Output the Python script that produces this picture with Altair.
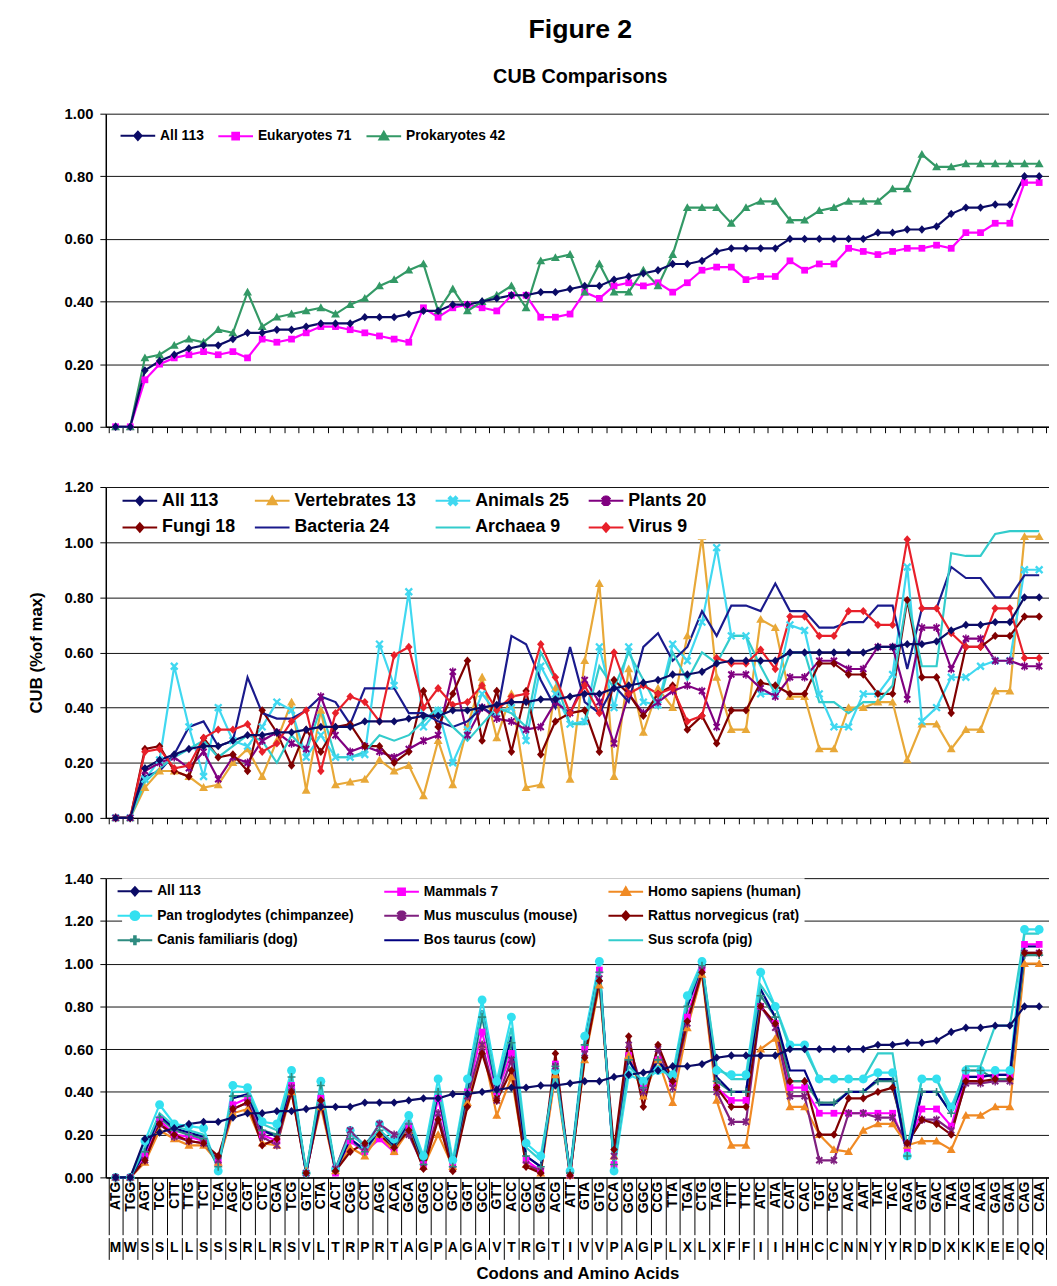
import altair as alt
import pandas as pd

codons = ["ATG","TGG","AGT","TCC","CTT","TTG","TCT","TCA","AGC","CGT","CTC","CGA","TCG","GTC","CTA","ACT",
          "CGG","CCT","AGG","ACA","GCA","GGG","CCC","GCT","GGT","GCC","GTT","ACC","CGC","GGA","ACG","ATT",
          "GTA","GTG","CCA","GCG","GGC","CCG","TTA","TGA","CTG","TAG","TTT","TTC","ATC","ATA","CAT","CAC",
          "TGT","TGC","AAC","AAT","TAT","TAC","AGA","GAT","GAC","TAA","AAG","AAA","GAG","GAA","CAG","CAA"]
amino = list("MWSSLLSSSRLRSVLTRPRTAGPAGAVTRGTIVVPAGPLXLXFFIIHHCCNNYYRDDXKKEEQQ")

all113 = [0.00,0.00,0.18,0.21,0.23,0.25,0.26,0.26,0.28,0.30, 0.30,0.31,0.31,0.32,0.33,0.33,0.33,0.35,0.35,0.35,
          0.36,0.37,0.37,0.39,0.39,0.40,0.41,0.42,0.42,0.43, 0.43,0.44,0.45,0.45,0.47,0.48,0.49,0.50,0.52,0.52,
          0.53,0.56,0.57,0.57,0.57,0.57,0.60,0.60,0.60,0.60, 0.60,0.60,0.62,0.62,0.63,0.63,0.64,0.68,0.70,0.70,
          0.71,0.71,0.80,0.80]
eukaryotes = [0,0,0.15,0.20,0.22,0.23,0.24,0.23,0.24,0.22, 0.28,0.27,0.28,0.30,0.32,0.32,0.31,0.30,0.29,0.28,
              0.27,0.38,0.35,0.38,0.39,0.38,0.37,0.42,0.42,0.35, 0.35,0.36,0.43,0.41,0.45,0.46,0.45,0.46,0.43,0.46,
              0.50,0.51,0.51,0.47,0.48,0.48,0.53,0.50,0.52,0.52, 0.57,0.56,0.55,0.56,0.57,0.57,0.58,0.57,0.62,0.62,
              0.65,0.65,0.78,0.78]
prokaryotes = [0,0,0.22,0.23,0.26,0.28,0.27,0.31,0.30,0.43, 0.32,0.35,0.36,0.37,0.38,0.36,0.39,0.41,0.45,0.47,
               0.50,0.52,0.37,0.44,0.37,0.40,0.42,0.45,0.38,0.53, 0.54,0.55,0.43,0.52,0.43,0.43,0.50,0.45,0.55,0.70,
               0.70,0.70,0.65,0.70,0.72,0.72,0.66,0.66,0.69,0.70, 0.72,0.72,0.72,0.76,0.76,0.87,0.83,0.83,0.84,0.84,
               0.84,0.84,0.84,0.84]

vertebrates = [0,0,0.11,0.17,0.17,0.15,0.11,0.12,0.20,0.25, 0.15,0.28,0.42,0.10,0.39,0.12,0.13,0.14,0.21,0.17,
               0.19,0.08,0.28,0.12,0.33,0.51,0.29,0.45,0.11,0.12, 0.47,0.14,0.57,0.85,0.15,0.54,0.31,0.47,0.40,0.66,
               1.02,0.51,0.32,0.32,0.72,0.69,0.44,0.44,0.25,0.25, 0.40,0.40,0.42,0.42,0.21,0.34,0.34,0.25,0.32,0.32,
               0.46,0.46,1.02,1.02]
animals = [0,0,0.14,0.21,0.55,0.33,0.15,0.40,0.28,0.26, 0.33,0.42,0.39,0.22,0.30,0.22,0.22,0.23,0.63,0.48,
           0.82,0.33,0.39,0.20,0.32,0.45,0.38,0.40,0.28,0.55, 0.45,0.34,0.35,0.62,0.40,0.62,0.42,0.41,0.63,0.57,
           0.71,0.98,0.66,0.66,0.45,0.45,0.70,0.68,0.45,0.33, 0.33,0.45,0.45,0.52,0.91,0.35,0.40,0.51,0.51,0.55,
           0.57,0.57,0.90,0.90]
plants = [0,0,0.17,0.20,0.22,0.18,0.24,0.14,0.22,0.20, 0.28,0.31,0.27,0.25,0.44,0.30,0.24,0.26,0.24,0.22,
          0.25,0.28,0.30,0.53,0.30,0.40,0.36,0.35,0.32,0.33, 0.42,0.38,0.50,0.42,0.27,0.45,0.38,0.42,0.46,0.48,
          0.46,0.33,0.52,0.52,0.47,0.44,0.51,0.51,0.57,0.57, 0.54,0.54,0.62,0.62,0.43,0.69,0.69,0.54,0.65,0.65,
          0.57,0.57,0.55,0.55]
fungi = [0,0,0.25,0.26,0.17,0.15,0.29,0.22,0.23,0.17, 0.39,0.31,0.19,0.32,0.24,0.33,0.34,0.26,0.26,0.20,
         0.24,0.46,0.33,0.45,0.57,0.28,0.46,0.24,0.46,0.23, 0.35,0.38,0.39,0.24,0.50,0.45,0.37,0.45,0.48,0.32,
         0.37,0.27,0.39,0.39,0.49,0.48,0.45,0.45,0.56,0.56, 0.52,0.52,0.45,0.45,0.79,0.51,0.51,0.38,0.62,0.62,
         0.66,0.66,0.73,0.73]
bacteria = [0,0,0.15,0.17,0.23,0.33,0.35,0.26,0.28,0.51, 0.38,0.36,0.36,0.39,0.44,0.42,0.34,0.47,0.47,0.47,
            0.38,0.38,0.35,0.33,0.35,0.40,0.37,0.66,0.63,0.50, 0.40,0.62,0.42,0.38,0.48,0.42,0.62,0.67,0.57,0.62,
            0.75,0.66,0.77,0.77,0.75,0.85,0.75,0.75,0.69,0.69, 0.71,0.71,0.77,0.77,0.54,0.76,0.76,0.91,0.87,0.87,
            0.80,0.80,0.88,0.88]
archaea = [0,0,0.13,0.18,0.22,0.25,0.28,0.22,0.26,0.30, 0.28,0.20,0.30,0.24,0.40,0.22,0.22,0.24,0.30,0.28,
           0.30,0.35,0.40,0.33,0.28,0.34,0.40,0.38,0.33,0.60, 0.50,0.34,0.34,0.55,0.47,0.60,0.50,0.40,0.60,0.50,
           0.60,0.56,0.66,0.66,0.55,0.45,0.60,0.60,0.42,0.42, 0.38,0.42,0.42,0.48,0.80,0.55,0.55,0.96,0.95,0.95,
           1.03,1.04,1.04,1.04]
virus = [0,0,0.24,0.25,0.18,0.19,0.29,0.32,0.32,0.34, 0.24,0.27,0.35,0.39,0.17,0.38,0.44,0.42,0.35,0.59,
         0.62,0.40,0.47,0.41,0.42,0.48,0.39,0.44,0.45,0.63, 0.51,0.38,0.48,0.38,0.60,0.45,0.48,0.45,0.47,0.35,
         0.37,0.58,0.56,0.56,0.61,0.54,0.73,0.73,0.66,0.66, 0.75,0.75,0.70,0.70,1.01,0.76,0.76,0.67,0.62,0.62,
         0.76,0.76,0.58,0.58]

mammals = [0,0,0.10,0.27,0.20,0.19,0.17,0.07,0.34,0.37, 0.20,0.17,0.43,0.02,0.37,0.02,0.17,0.12,0.18,0.12,
           0.24,0.06,0.37,0.05,0.40,0.68,0.40,0.58,0.08,0.03, 0.53,0.01,0.60,0.97,0.06,0.57,0.42,0.55,0.44,0.75,
           0.98,0.42,0.36,0.36,0.80,0.72,0.42,0.42,0.30,0.30, 0.30,0.30,0.30,0.30,0.13,0.32,0.32,0.24,0.47,0.47,
           0.48,0.48,1.09,1.09]
human = [0,0,0.07,0.22,0.18,0.15,0.15,0.07,0.30,0.32, 0.16,0.15,0.40,0.03,0.33,0.03,0.14,0.10,0.20,0.12,
         0.22,0.05,0.20,0.05,0.35,0.62,0.29,0.47,0.06,0.02, 0.48,0.01,0.55,0.90,0.10,0.57,0.38,0.55,0.35,0.70,
         0.95,0.36,0.15,0.15,0.60,0.65,0.33,0.33,0.20,0.13, 0.12,0.22,0.25,0.25,0.15,0.17,0.17,0.13,0.29,0.29,
         0.33,0.33,1.00,1.00]
chimp = [0,0,0.17,0.34,0.25,0.24,0.23,0.03,0.43,0.42, 0.26,0.25,0.50,0.02,0.45,0.04,0.22,0.15,0.25,0.18,
         0.29,0.10,0.46,0.08,0.46,0.83,0.45,0.75,0.16,0.10, 0.50,0.03,0.66,1.01,0.03,0.48,0.45,0.50,0.48,0.85,
         1.01,0.50,0.48,0.48,0.96,0.80,0.62,0.62,0.46,0.46, 0.46,0.46,0.49,0.49,0.10,0.46,0.46,0.33,0.50,0.50,
         0.50,0.50,1.16,1.16]
mouse = [0,0,0.08,0.25,0.19,0.17,0.16,0.08,0.32,0.35, 0.19,0.15,0.42,0.02,0.35,0.04,0.22,0.14,0.25,0.20,
         0.20,0.05,0.30,0.04,0.38,0.62,0.36,0.55,0.06,0.03, 0.52,0.01,0.58,0.93,0.10,0.62,0.40,0.60,0.42,0.72,
         0.97,0.40,0.26,0.26,0.80,0.70,0.38,0.38,0.08,0.08, 0.30,0.30,0.28,0.28,0.16,0.27,0.27,0.22,0.44,0.44,
         0.45,0.45,1.05,1.05]
rat = [0,0,0.08,0.25,0.20,0.17,0.16,0.10,0.32,0.35, 0.15,0.18,0.40,0.02,0.36,0.03,0.12,0.16,0.20,0.14,
       0.22,0.04,0.27,0.03,0.33,0.58,0.36,0.50,0.05,0.02, 0.58,0.01,0.56,0.92,0.13,0.66,0.33,0.62,0.45,0.73,
       0.96,0.42,0.33,0.33,0.80,0.72,0.45,0.45,0.20,0.20, 0.37,0.37,0.40,0.42,0.16,0.27,0.25,0.20,0.45,0.45,
       0.46,0.46,1.05,1.05]
dog = [0,0,0.12,0.28,0.22,0.20,0.18,0.05,0.38,0.38, 0.22,0.20,0.47,0.02,0.43,0.03,0.18,0.12,0.22,0.14,
       0.25,0.06,0.40,0.05,0.40,0.75,0.40,0.63,0.10,0.05, 0.52,0.02,0.62,0.96,0.06,0.55,0.42,0.55,0.45,0.80,
       0.99,0.45,0.40,0.40,0.85,0.75,0.45,0.45,0.35,0.35, 0.40,0.40,0.45,0.45,0.10,0.40,0.40,0.30,0.50,0.50,
       0.46,0.46,1.04,1.04]
cow = [0,0,0.12,0.29,0.23,0.21,0.19,0.06,0.37,0.39, 0.22,0.19,0.46,0.02,0.40,0.03,0.18,0.13,0.22,0.15,
       0.26,0.07,0.40,0.05,0.42,0.78,0.40,0.66,0.10,0.05, 0.52,0.02,0.62,0.98,0.05,0.55,0.43,0.55,0.45,0.80,
       1.00,0.47,0.40,0.40,0.88,0.75,0.50,0.50,0.34,0.34, 0.40,0.40,0.46,0.46,0.10,0.40,0.40,0.30,0.47,0.47,
       0.48,0.48,1.08,1.08]
pig = [0,0,0.14,0.30,0.24,0.22,0.20,0.05,0.40,0.40, 0.25,0.22,0.47,0.03,0.42,0.04,0.20,0.15,0.22,0.16,
       0.27,0.08,0.42,0.06,0.44,0.78,0.42,0.70,0.14,0.08, 0.50,0.02,0.62,0.98,0.05,0.52,0.45,0.52,0.46,0.82,
       1.00,0.52,0.46,0.46,0.90,0.80,0.60,0.60,0.46,0.46, 0.46,0.46,0.58,0.58,0.14,0.46,0.46,0.30,0.52,0.52,
       0.71,0.71,1.14,1.14]

FONT = "Liberation Sans"
SIZE = 324          # symbol size: one path unit = 9 px
W = 955
NAVY = "#0b0b66"


def poly(pts):
    return "M" + "L".join(f"{x:.3f},{y:.3f}" for x, y in pts) + "Z"


def xcross(a, w):
    r1 = [(-a + w, -a - w), (a + w, a - w), (a - w, a + w), (-a - w, -a + w)]
    r2 = [(-a - w, a - w), (a - w, -a - w), (a + w, -a + w), (-a + w, a + w)]
    return poly(r1) + poly(r2)


def vbar(l, w):
    return poly([(-w, -l), (w, -l), (w, l), (-w, l)])


def hbar(l, w):
    return poly([(-l, -w), (l, -w), (l, w), (-l, w)])


MARK = {
    "diamond": poly([(0, -0.47), (0.42, 0), (0, 0.47), (-0.42, 0)]),
    "square": poly([(-0.38, -0.38), (0.38, -0.38), (0.38, 0.38), (-0.38, 0.38)]),
    "triangle": poly([(0, -0.5), (0.5, 0.38), (-0.5, 0.38)]),
    "circle": "M-0.5,0A0.5,0.5,0,1,0,0.5,0A0.5,0.5,0,1,0,-0.5,0Z",
    "x": xcross(0.38, 0.09),
    "star": xcross(0.34, 0.08) + vbar(0.48, 0.08),
    "plus": hbar(0.45, 0.09) + vbar(0.45, 0.09),
    "none": "",
}
LEGLINE = "M-1.95,0L1.95,0"

XS = alt.Scale(type="band", domain=codons, paddingInner=0, paddingOuter=0.17)


def yaxis(ymax, title=None):
    vals = [0, 0.2, 0.4, 0.6, 0.8, 1.0, 1.2, 1.4][: int(round(ymax / 0.2)) + 1]
    kw = dict(values=vals, format=".2f", grid=True, gridColor="#111", gridWidth=1,
              domainColor="black", domainWidth=1.5, tickColor="black", tickSize=6,
              labelFont=FONT, labelFontSize=15, labelFontWeight="bold", labelColor="black",
              labelPadding=7)
    if title:
        kw.update(title=title, titleFont=FONT, titleFontSize=17, titleFontWeight="bold",
                  titleColor="black", titlePadding=19)
    return alt.Axis(**kw)


def panel(series, ymax, height, leg, xaxis, ytitle=None, title=None):
    n = len(series)
    kl = [f"L{k}|{s[0]}" for k, s in enumerate(series)]
    km = [f"M{k}|{s[0]}" for k, s in enumerate(series)]
    cols = [s[2] for s in series]
    legpaths = [LEGLINE + MARK[s[3]] for s in series]
    rows = []
    for k in list(range(1, n)) + [0]:
        for c, v in zip(codons, series[k][1]):
            rows.append({"codon": c, "value": v, "sl": kl[k], "sm": km[k]})
    df = pd.DataFrame(rows)
    df_leg = pd.DataFrame({"codon": [codons[0]] * n, "value": [0.0] * n, "sm": km})

    x = alt.X("codon:N", sort=codons, scale=XS, axis=xaxis, title=None)
    if ytitle:
        y = alt.Y("value:Q", scale=alt.Scale(domain=[0, ymax], nice=False), axis=yaxis(ymax, ytitle))
    else:
        y = alt.Y("value:Q", scale=alt.Scale(domain=[0, ymax], nice=False), axis=yaxis(ymax), title=None)
    color_scale = alt.Scale(domain=kl, range=cols)

    line = alt.Chart(df).mark_line(strokeWidth=2.2).encode(
        x=x, y=y, color=alt.Color("sl:N", scale=color_scale, legend=None),
    )
    layers = [line]
    kinds = []
    for s in series:
        if s[3] != "none" and s[3] not in kinds:
            kinds.append(s[3])
    kinds.sort(key=lambda m: 1 if m == series[0][3] else 0)
    for mk in kinds:
        names = [kl[k] for k in range(n) if series[k][3] == mk]
        layers.append(
            alt.Chart(df).transform_filter(alt.FieldOneOfPredicate(field="sl", oneOf=names))
            .mark_point(filled=True, size=SIZE, opacity=1, strokeWidth=0, shape=MARK[mk])
            .encode(x=x, y=y, color=alt.Color("sl:N", scale=color_scale, legend=None))
        )

    common = dict(orient="none", legendX=leg["x"], legendY=leg["y"], direction="horizontal",
                  columns=leg["cols"], columnPadding=leg["cp"], rowPadding=leg["rp"],
                  symbolSize=SIZE, symbolStrokeWidth=2, symbolOpacity=1, labelFont=FONT,
                  labelFontSize=leg["fs"], labelFontWeight="bold", labelColor="black",
                  labelExpr="split(datum.label, '|')[1]", title=None, padding=leg["pad"],
                  labelOffset=12.5, symbolOffset=0, labelLimit=500, fillColor="white")
    legend_layer = alt.Chart(df_leg).mark_point(filled=True, size=SIZE, strokeWidth=2).encode(
        x=x, y=y,
        opacity=alt.value(0),
        fill=alt.Fill("sm:N", scale=alt.Scale(domain=km, range=cols), legend=alt.Legend(**common)),
        stroke=alt.Stroke("sm:N", scale=alt.Scale(domain=km, range=cols), legend=alt.Legend(**common)),
        shape=alt.Shape("sm:N", scale=alt.Scale(domain=km, range=legpaths), legend=alt.Legend(**common)),
    )
    layers.append(legend_layer)

    ch = alt.layer(*layers).properties(width=W, height=height)
    if title:
        ch = ch.properties(title=alt.Title(title, font=FONT, fontSize=20, fontWeight="bold",
                                           color="black", anchor="middle", frame="group",
                                           dx=3, offset=20))
    return ch


xaxis_top = alt.Axis(labels=False, ticks=True, tickBand="extent", tickSize=6, tickColor="black",
                     domainColor="black", domainWidth=1.5, grid=False)
xaxis_bottom = alt.Axis(labels=True, labelAngle=270, labelAlign="right", labelBaseline="middle",
                        labelPadding=-54, tickSize=58, tickBand="extent", tickColor="black",
                        domainColor="black", domainWidth=1.5, labelFont=FONT, labelFontSize=14,
                        labelFontWeight="bold", labelColor="black", labelOverlap=False, grid=False)

p1 = panel([("All 113", all113, NAVY, "diamond"),
            ("Eukaryotes 71", eukaryotes, "#FF00FF", "square"),
            ("Prokaryotes 42", prokaryotes, "#339966", "triangle")],
           1.0, 317, dict(x=19.5, y=9, cols=3, cp=10, rp=6, fs=14, pad=3), xaxis_top,
           title="CUB Comparisons")

p2 = panel([("All 113", all113, NAVY, "diamond"),
            ("Vertebrates 13", vertebrates, "#E8A838", "triangle"),
            ("Animals 25", animals, "#40D8F0", "x"),
            ("Plants 20", plants, "#800080", "star"),
            ("Fungi 18", fungi, "#800000", "diamond"),
            ("Bacteria 24", bacteria, "#1A1A8C", "none"),
            ("Archaea 9", archaea, "#33CCCC", "none"),
            ("Virus 9", virus, "#E8202A", "diamond")],
           1.2, 335, dict(x=21.5, y=1, cols=4, cp=15, rp=8, fs=18, pad=3), xaxis_top,
           ytitle="CUB (%of max)")

p3 = panel([("All 113", all113, NAVY, "diamond"),
            ("Mammals 7", mammals, "#FF00FF", "square"),
            ("Homo sapiens (human)", human, "#F08A24", "triangle"),
            ("Pan troglodytes (chimpanzee)", chimp, "#33E0F0", "circle"),
            ("Mus musculus (mouse)", mouse, "#7F1F7F", "star"),
            ("Rattus norvegicus (rat)", rat, "#800000", "diamond"),
            ("Canis familiaris (dog)", dog, "#2E8B80", "plus"),
            ("Bos taurus (cow)", cow, "#000080", "none"),
            ("Sus scrofa (pig)", pig, "#33CCCC", "none")],
           1.4, 303, dict(x=16.5, y=0, cols=3, cp=26, rp=6, fs=14, pad=3), xaxis_bottom)

aa_df = pd.DataFrame({"codon": codons, "aa": amino})
aa_chart = alt.Chart(aa_df).mark_text(font=FONT, fontSize=14, fontWeight="bold", color="black").encode(
    x=alt.X("codon:N", sort=codons, scale=XS,
            axis=alt.Axis(labels=False, ticks=False, domain=False, grid=True, tickBand="extent",
                          gridColor="black", gridWidth=1, title="Codons and Amino Acids",
                          titleFont=FONT, titleFontSize=17, titleFontWeight="bold",
                          titleColor="black", titlePadding=6)),
    text="aa:N",
).properties(width=W, height=22)

chart = alt.vconcat(p1, p2, p3, aa_chart, spacing=61, bounds="flush").resolve_scale(
    color="independent", fill="independent", shape="independent", stroke="independent"
).resolve_legend(
    color="independent", fill="independent", shape="independent", stroke="independent"
).properties(
    title=alt.Title("Figure 2", font=FONT, fontSize=27, fontWeight="bold", color="black",
                    anchor="middle", frame="group", dx=3, offset=24),
    padding={"left": 19, "top": 0, "right": 0, "bottom": 0},
    background="white",
).configure_view(stroke=None)

chart.save("out.html", embed_options={"renderer": "svg", "actions": False})
